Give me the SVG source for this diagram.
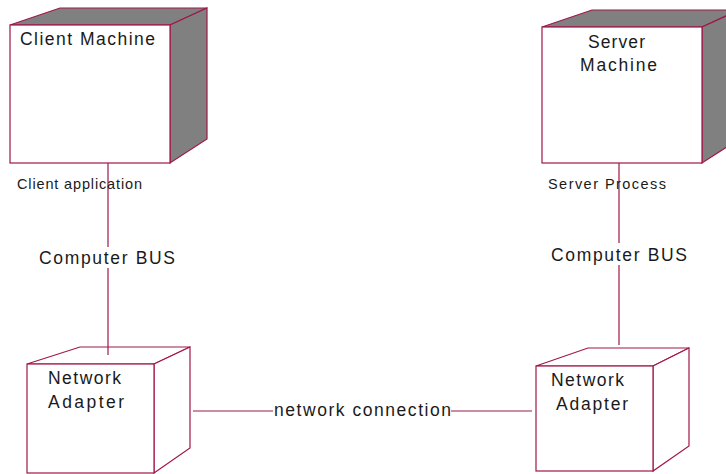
<svg xmlns="http://www.w3.org/2000/svg" width="726" height="474" viewBox="0 0 726 474">
<style>
.e{stroke:#A0174A;stroke-width:1.2;fill:none}
.f{stroke:#A0174A;stroke-width:1.2;fill:#fff}
.g{stroke:#A0174A;stroke-width:1.2;fill:#808080}
.t{font-family:"Liberation Sans",Arial,sans-serif;fill:#1a1a1a}
.big{font-size:17.5px}
.sm{font-size:14.5px}
</style>
<rect width="726" height="474" fill="#fff"/>
<g id="client-machine">
<polygon class="g" points="10,25 60,8 207,8 170,25"/>
<polygon class="g" points="170,25 207,8 207,139 170,163"/>
<rect class="f" x="10" y="25" width="160" height="138"/>
<text class="t big" x="20" y="45" textLength="135" lengthAdjust="spacing">Client Machine</text>
</g>
<g id="server-machine">
<polygon class="g" points="542,27 592,10 739,10 702,27"/>
<polygon class="g" points="702,27 739,10 739,139 702,163"/>
<rect class="f" x="542" y="27" width="160" height="136"/>
<text class="t big" x="588" y="48" textLength="57" lengthAdjust="spacing">Server</text>
<text class="t big" x="580" y="71" textLength="77" lengthAdjust="spacing">Machine</text>
</g>
<g id="client-adapter">
<polygon class="f" points="27,364 80,347 190,347 154,364"/>
<polygon class="f" points="154,364 190,347 190,448 154,473"/>
<rect class="f" x="27" y="364" width="127" height="109"/>
<text class="t big" x="48" y="384" textLength="73" lengthAdjust="spacing">Network</text>
<text class="t big" x="48" y="408" textLength="76" lengthAdjust="spacing">Adapter</text>
</g>
<g id="server-adapter">
<polygon class="f" points="536,366 588,348 689,348 653,366"/>
<polygon class="f" points="653,366 689,348 689,446 653,471"/>
<rect class="f" x="536" y="366" width="117" height="105"/>
<text class="t big" x="551" y="386" textLength="73" lengthAdjust="spacing">Network</text>
<text class="t big" x="556" y="410" textLength="72" lengthAdjust="spacing">Adapter</text>
</g>
<g id="connectors">
<line class="e" x1="108" y1="163" x2="108" y2="247"/>
<line class="e" x1="108" y1="268" x2="108" y2="355"/>
<line class="e" x1="619" y1="163" x2="619" y2="243"/>
<line class="e" x1="619" y1="265" x2="619" y2="345"/>
<line class="e" x1="193" y1="411" x2="273" y2="411"/>
<line class="e" x1="451" y1="411" x2="532" y2="411"/>
<text class="t sm" x="17" y="189" textLength="125" lengthAdjust="spacing">Client application</text>
<text class="t sm" x="548" y="189" textLength="118" lengthAdjust="spacing">Server Process</text>
<text class="t big" x="39" y="264" textLength="136" lengthAdjust="spacing">Computer BUS</text>
<text class="t big" x="551" y="261" textLength="136" lengthAdjust="spacing">Computer BUS</text>
<text class="t big" x="274" y="416" textLength="177" lengthAdjust="spacing">network connection</text>
</g>
</svg>
